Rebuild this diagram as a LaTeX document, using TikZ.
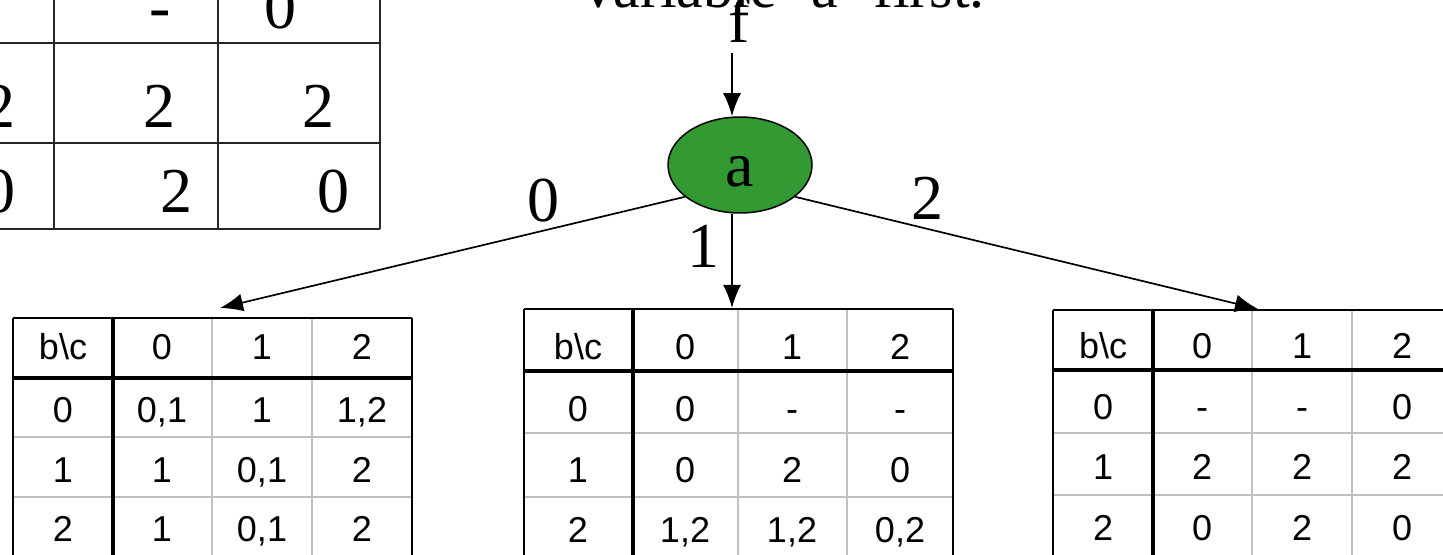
\documentclass[tikz,border=0pt]{standalone}
\usepackage{fontspec}
\setmainfont{Liberation Serif}
\newfontfamily\tabfont{Liberation Sans}
\usetikzlibrary{arrows.meta,shapes.geometric}
\definecolor{agreen}{HTML}{339933}
\definecolor{gridgrey}{HTML}{C0C0C0}
\begin{document}
\begin{tikzpicture}[x=0.5pt,y=-0.5pt,
  big/.style={font=\fontsize{32}{36}\selectfont, inner sep=0pt, anchor=base},
  ttl/.style={font=\fontsize{30}{34}\selectfont, inner sep=0pt, anchor=base west},
  cell/.style={font=\tabfont\fontsize{18}{20}\selectfont, inner sep=0pt,
    text height=13pt, text depth=0pt},
  arr/.style={-{Latex[length=11.5pt,width=9pt]}, line width=0.85pt},
  tline/.style={line width=1pt, black},
  heavyline/.style={line width=1.6pt, black},
  greyline/.style={line width=1pt, gridgrey},
  oldline/.style={line width=1.1pt, black!85},
  varnode/.style={ellipse, draw=black, line width=0.75pt, fill=agreen,
    minimum width=72pt, minimum height=48pt, inner sep=0pt,
    font=\fontsize{32}{36}\selectfont, text height=22pt, text depth=0pt}
]
\useasboundingbox (0,0) rectangle (1443,555);
\clip (0,0) rectangle (1443,555);

% ---- title (cut off at top) ----
\node[ttl] (title) at (583,8) {variable ‘a’ first.};

% ---- top-left table (cut off) ----
\draw[oldline] (-130,43) -- (380,43);
\draw[oldline] (-130,143) -- (380,143);
\draw[oldline] (-130,229) -- (380,229);
\draw[oldline] (54,-60) -- (54,229);
\draw[oldline] (218,-60) -- (218,229);
\draw[oldline] (380,-60) -- (380,229);
\node[big] (o10) at (-8,29) {-};
\node[big] (o11) at (160,29) {-};
\node[big] (o12) at (280,29) {0};
\node[big] (o20) at (-1,128) {2};
\node[big] (o21) at (159,128) {2};
\node[big] (o22) at (318,128) {2};
\node[big] (o30) at (-1,213) {0};
\node[big] (o31) at (176,213) {2};
\node[big] (o32) at (333,213) {0};

% ---- decision node ----
\node[varnode] (a) at (740,165) {a};
\node[big] (f) at (739,43) {f};
\coordinate (fb) at (732,53);
\draw[arr] (fb) -- (a.north -| fb);

\coordinate (t0) at (220,308);
\coordinate (t1) at (732,308);
\coordinate (t2) at (1258,309);
\draw[arr] (a.210) -- (t0);
\draw[arr] (a.south -| fb) -- (t1);
\draw[arr] (a.330) -- (t2);
\node[big] (l0) at (543,222) {0};
\node[big] (l1) at (703,268) {1};
\node[big] (l2) at (927,220) {2};

% ---- left table (a=0) ----
\draw[greyline] (212,318) -- (212,560);
\draw[greyline] (312,318) -- (312,560);
\draw[greyline] (13,437) -- (412,437);
\draw[greyline] (13,497) -- (412,497);
\draw[tline] (13,318) -- (412,318);
\draw[tline] (13,318) -- (13,560);
\draw[tline] (412,318) -- (412,560);
\draw[heavyline] (113,318) -- (113,560);
\draw[heavyline] (13,378) -- (412,378);
\node[cell] (L00) at (63,346) {b\textbackslash c};
\node[cell] (L01) at (162,346) {0};
\node[cell] (L02) at (262,346) {1};
\node[cell] (L03) at (362,346) {2};
\node[cell] (L10) at (63,409) {0};
\node[cell] (L11) at (162,409) {0,1};
\node[cell] (L12) at (262,409) {1};
\node[cell] (L13) at (362,409) {1,2};
\node[cell] (L20) at (63,469) {1};
\node[cell] (L21) at (162,469) {1};
\node[cell] (L22) at (262,469) {0,1};
\node[cell] (L23) at (362,469) {2};
\node[cell] (L30) at (63,528) {2};
\node[cell] (L31) at (162,528) {1};
\node[cell] (L32) at (262,528) {0,1};
\node[cell] (L33) at (362,528) {2};

% ---- middle table (a=1) ----
\draw[greyline] (738,309) -- (738,560);
\draw[greyline] (847,309) -- (847,560);
\draw[greyline] (524,433) -- (953,433);
\draw[greyline] (524,497) -- (953,497);
\draw[tline] (524,309) -- (953,309);
\draw[tline] (524,309) -- (524,560);
\draw[tline] (953,309) -- (953,560);
\draw[heavyline] (633,309) -- (633,560);
\draw[heavyline] (524,371) -- (953,371);
\node[cell] (M00) at (578,346) {b\textbackslash c};
\node[cell] (M01) at (685,346) {0};
\node[cell] (M02) at (792,346) {1};
\node[cell] (M03) at (900,346) {2};
\node[cell] (M10) at (578,408) {0};
\node[cell] (M11) at (685,408) {0};
\node[cell] (M12) at (792,408) {-};
\node[cell] (M13) at (900,408) {-};
\node[cell] (M20) at (578,469) {1};
\node[cell] (M21) at (685,469) {0};
\node[cell] (M22) at (792,469) {2};
\node[cell] (M23) at (900,469) {0};
\node[cell] (M30) at (578,529) {2};
\node[cell] (M31) at (685,529) {1,2};
\node[cell] (M32) at (792,529) {1,2};
\node[cell] (M33) at (900,529) {0,2};

% ---- right table (a=2) ----
\draw[greyline] (1252,310) -- (1252,560);
\draw[greyline] (1352,310) -- (1352,560);
\draw[greyline] (1053,433) -- (1452,433);
\draw[greyline] (1053,495) -- (1452,495);
\draw[tline] (1053,310) -- (1452,310);
\draw[tline] (1053,310) -- (1053,560);
\draw[tline] (1452,310) -- (1452,560);
\draw[heavyline] (1153,310) -- (1153,560);
\draw[heavyline] (1053,370) -- (1452,370);
\node[cell] (R00) at (1103,345) {b\textbackslash c};
\node[cell] (R01) at (1202,345) {0};
\node[cell] (R02) at (1302,345) {1};
\node[cell] (R03) at (1402,345) {2};
\node[cell] (R10) at (1103,406) {0};
\node[cell] (R11) at (1202,406) {-};
\node[cell] (R12) at (1302,406) {-};
\node[cell] (R13) at (1402,406) {0};
\node[cell] (R20) at (1103,466) {1};
\node[cell] (R21) at (1202,466) {2};
\node[cell] (R22) at (1302,466) {2};
\node[cell] (R23) at (1402,466) {2};
\node[cell] (R30) at (1103,527) {2};
\node[cell] (R31) at (1202,527) {0};
\node[cell] (R32) at (1302,527) {2};
\node[cell] (R33) at (1402,527) {0};
\end{tikzpicture}
\end{document}
